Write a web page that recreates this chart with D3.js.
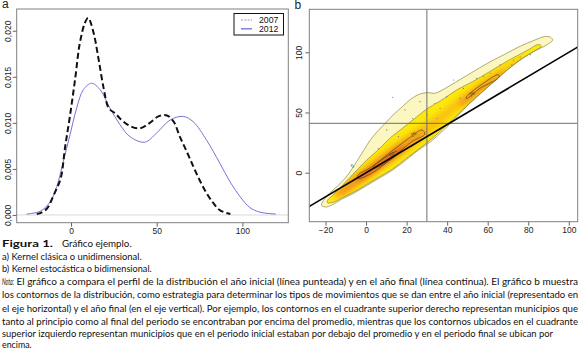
<!DOCTYPE html>
<html>
<head>
<meta charset="utf-8">
<script src="https://cdn.jsdelivr.net/npm/d3@7"></script>
<style>
body { margin: 0; background: #fff; }
svg { display: block; }
.ax text { font-family: "Liberation Sans", Arial, sans-serif; font-size: 8.5px; fill: #222; }
.ax line { stroke: #666; }
.cap { font-family: "Liberation Sans Narrow", Lato, sans-serif; font-size: 10.3px; fill: #111; }
</style>
</head>
<body>
<svg id="chart" width="581" height="349"></svg>
<script>
// ---- panel a: kernel densities ----
var densX2007 = [-20, -18, -14, -10, -6, -3.5, -0.5, 2.5, 5, 8, 10, 13, 16, 19, 22, 26, 29, 34, 40, 46, 51, 56, 60, 63.5, 67.5, 71.5, 75, 79, 83, 87, 93];
var densY2007 = [0.0001, 0.0002, 0.0007, 0.0022, 0.0040, 0.0073, 0.0109, 0.0149, 0.0185, 0.0208, 0.0214, 0.0199, 0.0170, 0.0138, 0.0116, 0.0110, 0.0104, 0.0097, 0.0094, 0.0100, 0.0107, 0.0108, 0.0101, 0.0085, 0.0069, 0.0052, 0.0038, 0.0024, 0.0013, 0.0005, 0.0001];
var densX2012 = [-26, -18, -12.3, -8.3, -4.5, -0.6, 3.3, 7.2, 12, 17, 22.7, 28.6, 34.4, 43, 50, 57.8, 65.5, 71.4, 79.2, 86.9, 92.8, 98.6, 104.4, 110.3, 119.5];
var densY2012 = [0.0001, 0.0004, 0.0014, 0.0031, 0.0058, 0.0087, 0.0116, 0.0136, 0.0143, 0.0136, 0.0116, 0.0098, 0.0085, 0.0079, 0.0089, 0.0103, 0.0107, 0.0101, 0.0081, 0.0056, 0.0036, 0.0020, 0.0008, 0.0003, 0.0001];
var seriesNames = ["2007", "2012"];
var xTicksA = [0, 50, 100];
var yTicksA = [0, 0.005, 0.01, 0.015, 0.02];

// ---- panel b: stochastic kernel contours (data units) ----
var xTicksB = [-20, 0, 20, 40, 60, 80, 100];
var yTicksB = [0, 50, 100];
var meanX = 30, meanY = 41;
var identityLine = [[-40, -40], [120, 120]];
var contourOuter = [[-21,-23],[-18,-17],[-14,-11],[-10,-4],[-7,3],[-4,11],[-1,19],[2,27],[6,35],[10,42],[14,49],[18,55],[22,61],[26,65],[30,66.5],[34,66],[38,69],[44,75],[52,83],[60,91],[68,98],[76,105],[83,110],[88,113],[91,112.5],[92,110],[89,106],[82,100],[74,91],[66,80],[58,68],[50,56],[44,45],[38,35],[32,26],[26,19],[20,11],[13,2],[6,-5],[0,-11],[-6,-17],[-12,-22],[-17,-27],[-20,-28.5],[-22,-27]];
var contourSecond = [[-19,-23],[-16,-18],[-12,-11],[-8,-4],[-4,3],[0,10],[6,19],[12,29],[18,37],[24,45],[30,53],[37,60],[45,69],[53,76],[61,84],[70,93],[80,102],[85,106.5],[86.5,105],[84,102],[78,96],[70,86],[62,74],[54,62],[47,51],[40,40],[33,29],[27,21],[20,12],[13,3],[6,-4],[0,-10],[-6,-16],[-12,-21],[-16,-24.5],[-19,-25]];
var ridgeBand = [[-16,-15],[-8,-4],[0,7],[8,17],[16,27],[24,36],[32,45],[40,55],[48,66],[56,76],[64,85],[72,92],[78,97],[76,91],[68,82],[60,71],[52,60],[44,50],[36,38],[28,27],[20,17],[12,7],[4,-3],[-4,-12],[-12,-20],[-16,-21]];
var coreLeft = [[-14,-16],[-8,-6],[0,4],[8,14],[16,24],[24,32],[29,35],[28,30],[20,19],[12,9],[4,-1],[-4,-10],[-12,-19],[-15,-19]];
var coreRight = [[46,58],[53,68],[60,76],[67,84],[69,84],[67,80],[60,71],[53,62],[47,55]];
var peakLeft = [[-4,-4],[2,4],[8,11],[14,18],[19,22],[18,18],[10,8],[2,-1],[-4,-7]];
var peakRight = [[50,63],[57,72],[63,79],[64,77],[56,67],[50,61]];
var loop25Left = [[-4,-2],[3,5],[12,17],[21,28.5],[27.5,35.5],[29,32],[22.5,25.7],[12.7,12],[2.8,-0.5],[-4,-4.7]];
var loop25Right = [[49.5,63],[57.9,74.3],[65.3,81.5],[65.5,79],[56.2,70.1],[49.5,61.5]];
var loop50 = [[3.6,5],[8,11],[15,17.6],[15.5,16],[9.4,7.8],[4,3.8]];
var contourLabels = [["5", -6.7, 5.6], ["25", 23.4, 31.9], ["50", 12.7, 15.3], ["25", 52.1, 65.4]];
var scatterPts = [[13.2,62.6],[19.2,52.1],[26.6,59],[34,57.6],[36.5,53.5],[39.8,63.1],[43.1,77],[46.4,61.8],[54.6,78.4],[61.2,82.6],[66.1,89.5],[71.9,89.5],[72.7,93.6],[10.2,35.5],[30,48],[48,70],[58,80],[76,96],[81,98],[23,45],[16,30],[6,20],[35,45]];

// ---- caption ----
var captionLines = [
  ["Figura 1.", "Gráfico ejemplo."],
  ["", "a) Kernel clásica o unidimensional."],
  ["", "b) Kernel estocástica o bidimensional."],
  ["Nota:", "El gráfico a compara el perfil de la distribución el año inicial (línea punteada) y en el año final (línea continua). El gráfico b muestra"],
  ["", "los contornos de la distribución, como estrategia para determinar los tipos de movimientos que se dan entre el año inicial (representado en"],
  ["", "el eje horizontal) y el año final (en el eje vertical). Por ejemplo, los contornos en el cuadrante superior derecho representan municipios que"],
  ["", "tanto al principio como al final del periodo se encontraban por encima del promedio, mientras que los contornos ubicados en el cuadrante"],
  ["", "superior izquierdo representan municipios que en el periodo inicial estaban por debajo del promedio y en el periodo final se ubican por"],
  ["", "encima."]
];

var svg = d3.select("#chart");
var A = { l: 16.7, r: 288.3, t: 9, b: 222.7 };
var B = { l: 309.3, r: 577.7, t: 9.3, b: 221.7 };

var xa = d3.scaleLinear().domain([-31.7, 126.8]).range([A.l, A.r]);
var ya = d3.scaleLinear().domain([-0.00084, 0.02236]).range([A.b, A.t]);
var xb = d3.scaleLinear().domain([-28, 104.4]).range([B.l, B.r]);
var yb = d3.scaleLinear().domain([-40.7, 135.7]).range([B.b, B.t]);

var defs = svg.append("defs");
defs.append("filter").attr("id", "soft").attr("x", "-20%").attr("y", "-20%").attr("width", "140%").attr("height", "140%")
  .append("feGaussianBlur").attr("stdDeviation", 2.6);
defs.append("clipPath").attr("id", "clipA").append("rect")
  .attr("x", A.l).attr("y", A.t).attr("width", A.r - A.l).attr("height", A.b - A.t);
defs.append("clipPath").attr("id", "clipB").append("rect")
  .attr("x", B.l).attr("y", B.t).attr("width", B.r - B.l).attr("height", B.b - B.t);

function comma(f) { return function (d) { return d3.format(f)(d).replace(".", ","); }; }

function bottomAxis(scale, ticks, y) {
  var g = svg.append("g").attr("class", "ax").attr("transform", "translate(0," + y + ")")
    .call(d3.axisBottom(scale).tickValues(ticks).tickSize(4).tickPadding(1.5));
  g.select(".domain").remove();
}
function leftAxis(scale, ticks, x, fmt, off) {
  var ax = d3.axisLeft(scale).tickValues(ticks).tickSize(4);
  if (fmt) ax.tickFormat(fmt);
  var g = svg.append("g").attr("class", "ax").attr("transform", "translate(" + x + ",0)").call(ax);
  g.select(".domain").remove();
  g.selectAll("text").attr("transform", "rotate(-90)").attr("x", 0).attr("y", -off)
    .attr("dy", 0).attr("text-anchor", "middle");
}

// ===== panel a =====
var pa = svg.append("g").attr("clip-path", "url(#clipA)");
pa.append("line").attr("x1", A.l).attr("x2", A.r).attr("y1", ya(0)).attr("y2", ya(0))
  .attr("stroke", "#d8d8d8").attr("stroke-width", 1);

var lineA = d3.line().x(function (d) { return xa(d[0]); }).y(function (d) { return ya(d[1]); })
  .curve(d3.curveCatmullRom.alpha(0.5));
var s2007 = d3.zip(densX2007, densY2007);
var s2012 = d3.zip(densX2012, densY2012);

pa.append("path").attr("d", lineA(s2012)).attr("fill", "none")
  .attr("stroke", "#7474d6").attr("stroke-width", 1);
pa.append("path").attr("d", lineA(s2007)).attr("fill", "none")
  .attr("stroke", "#111").attr("stroke-width", 2).attr("stroke-dasharray", "6,3.2");

svg.append("rect").attr("x", A.l).attr("y", A.t).attr("width", A.r - A.l).attr("height", A.b - A.t)
  .attr("fill", "none").attr("stroke", "#808080").attr("stroke-width", 1);
bottomAxis(xa, xTicksA, A.b);
leftAxis(ya, yTicksA, A.l, comma(".3f"), 6);

// legend
var lg = svg.append("g").attr("transform", "translate(234,13.5)");
lg.append("rect").attr("width", 49.5).attr("height", 21.5).attr("fill", "#fff")
  .attr("stroke", "#111").attr("stroke-width", 1);
var legStyles = [
  { stroke: "#9a9a9a", w: 1, dash: "2,1.3" },
  { stroke: "#8a8ae0", w: 1.6, dash: null }
];
seriesNames.forEach(function (name, i) {
  var yy = 6.5 + i * 8.8;
  lg.append("line").attr("x1", 7).attr("x2", 18).attr("y1", yy).attr("y2", yy)
    .attr("stroke", legStyles[i].stroke).attr("stroke-width", legStyles[i].w)
    .attr("stroke-dasharray", legStyles[i].dash);
  lg.append("text").attr("x", 25).attr("y", yy + 3.1).text(name)
    .attr("font-family", "Liberation Sans, Arial, sans-serif").attr("font-size", 8.7).attr("fill", "#111");
});

// ===== panel b =====
var pb = svg.append("g").attr("clip-path", "url(#clipB)");
var lineB = d3.line().x(function (d) { return xb(d[0]); }).y(function (d) { return yb(d[1]); });
var ring = d3.line().x(function (d) { return xb(d[0]); }).y(function (d) { return yb(d[1]); })
  .curve(d3.curveCatmullRomClosed.alpha(0.5));

defs.append("clipPath").attr("id", "clipSecond").append("path").attr("d", ring(contourSecond));

pb.append("path").attr("d", ring(contourOuter)).attr("fill", "#fcf6c0");
pb.append("path").attr("d", ring(contourSecond)).attr("fill", "#fde80c");

var inner = pb.append("g").attr("clip-path", "url(#clipSecond)")
  .append("g").attr("filter", "url(#soft)");
inner.append("path").attr("d", ring(ridgeBand)).attr("fill", "#f9c40e");
[coreLeft, coreRight].forEach(function (p) {
  inner.append("path").attr("d", ring(p)).attr("fill", "#f3981a");
});
[peakLeft, peakRight].forEach(function (p, i) {
  inner.append("path").attr("d", ring(p)).attr("fill", i === 0 ? "#e0501c" : "#ef8a18");
});

pb.append("path").attr("d", ring(contourOuter)).attr("fill", "none").attr("stroke", "#8f8a42").attr("stroke-width", 0.7);
pb.append("path").attr("d", ring(contourSecond)).attr("fill", "none").attr("stroke", "#8f8a42").attr("stroke-width", 0.7);
[loop25Left, loop25Right, loop50].forEach(function (p) {
  pb.append("path").attr("d", ring(p)).attr("fill", "none").attr("stroke", "#5a4620").attr("stroke-width", 0.7);
});
contourLabels.forEach(function (d) {
  pb.append("text").attr("x", xb(d[1])).attr("y", yb(d[2]))
    .attr("transform", "rotate(-35," + xb(d[1]) + "," + yb(d[2]) + ")")
    .attr("text-anchor", "middle").attr("dy", "0.35em")
    .attr("font-family", "Liberation Sans, Arial, sans-serif").attr("font-size", 5)
    .attr("fill", "#4d3d1c").text(d[0]);
});

pb.selectAll("circle.pt").data(scatterPts).enter().append("circle").attr("class", "pt")
  .attr("cx", function (d) { return xb(d[0]); }).attr("cy", function (d) { return yb(d[1]); })
  .attr("r", 0.6).attr("fill", "#777");

pb.append("line").attr("x1", xb(meanX)).attr("x2", xb(meanX)).attr("y1", B.t).attr("y2", B.b)
  .attr("stroke", "#6e6e6e").attr("stroke-width", 1);
pb.append("line").attr("x1", B.l).attr("x2", B.r).attr("y1", yb(meanY)).attr("y2", yb(meanY))
  .attr("stroke", "#6e6e6e").attr("stroke-width", 1);
pb.append("path").attr("d", lineB(identityLine)).attr("fill", "none")
  .attr("stroke", "#000").attr("stroke-width", 1.6);

svg.append("rect").attr("x", B.l).attr("y", B.t).attr("width", B.r - B.l).attr("height", B.b - B.t)
  .attr("fill", "none").attr("stroke", "#808080").attr("stroke-width", 1);
bottomAxis(xb, xTicksB, B.b);
leftAxis(yb, yTicksB, B.l, null, 7);

// panel letters
svg.append("text").attr("x", 2).attr("y", 8).text("a")
  .attr("font-family", "Liberation Sans, Arial, sans-serif").attr("font-size", 12).attr("fill", "#222");
svg.append("text").attr("x", 294.5).attr("y", 9).text("b")
  .attr("font-family", "Liberation Sans, Arial, sans-serif").attr("font-size", 12).attr("fill", "#222");

// ===== caption =====
var capBase = [247, 259.5, 272, 285.3, 298.4, 311.5, 324.6, 336.8, 347.5];
var capEnds = [131.7, 141.7, 151.7, 578, 578, 578, 578, 553, 31.7];
captionLines.forEach(function (ln, i) {
  var x0 = 2;
  if (ln[0]) {
    var pre = svg.append("text").attr("class", "cap").attr("x", 2).attr("y", capBase[i]).text(ln[0]);
    if (i === 0) pre.attr("font-weight", "bold").attr("textLength", 51).attr("lengthAdjust", "spacingAndGlyphs");
    else pre.attr("font-style", "italic").attr("textLength", 12).attr("lengthAdjust", "spacingAndGlyphs");
    x0 = i === 0 ? 62 : 16.5;
  }
  svg.append("text").attr("class", "cap").attr("x", x0).attr("y", capBase[i]).text(ln[1])
    .attr("textLength", capEnds[i] - x0).attr("lengthAdjust", "spacingAndGlyphs");
});
</script>
</body>
</html>
